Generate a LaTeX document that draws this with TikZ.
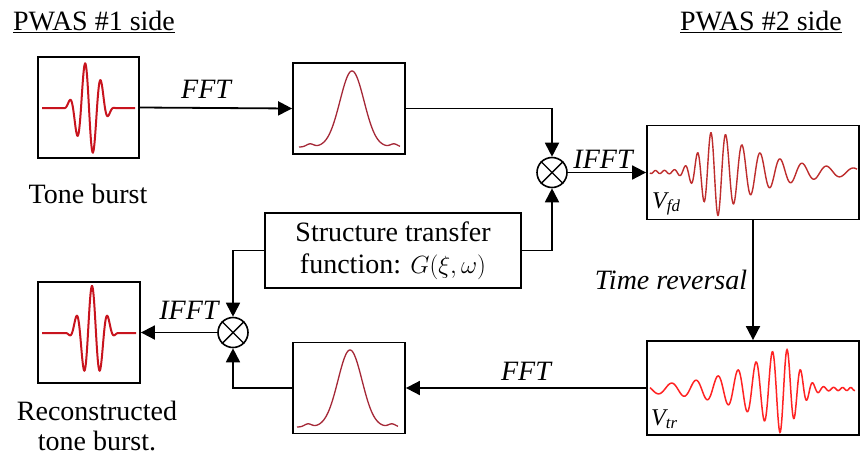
\documentclass[tikz,border=0pt]{standalone}
\usepackage{fontspec}
\setmainfont{Liberation Serif}
\usetikzlibrary{arrows.meta, calc}

\definecolor{burstred}{RGB}{200,20,30}
\definecolor{specred}{RGB}{165,40,55}
\definecolor{fdred}{RGB}{190,45,45}
\definecolor{trred}{RGB}{255,35,35}

\begin{document}
\begin{tikzpicture}[x=1pt, y=-1pt,
    box/.style={draw, line width=1.8pt, fill=white, inner sep=0pt},
    mult/.style={draw, circle, line width=1.6pt, fill=white, minimum size=30pt, inner sep=0pt},
    arr/.style={line width=1.8pt, -{Triangle[length=14pt, width=14pt]}},
    txt/.style={font=\fontsize{28}{30}\selectfont, inner sep=0pt},
    lbl/.style={font=\fontsize{28}{30}\selectfont\itshape, inner sep=0pt, anchor=base},
    sig/.style={font=\fontsize{24}{24}\selectfont\itshape, inner sep=0pt, anchor=base west}]
    \useasboundingbox (0,0) rectangle (862,456);

    \node[txt, anchor=base] (side1) at (94,30) {\underline{PWAS \#1 side}};
    \node[txt, anchor=base] (side2) at (761,30) {\underline{PWAS \#2 side}};

    % top row
    \node[box, minimum width=101pt, minimum height=101pt] (tb) at (88.5,107.5) {};
    \node[box, minimum width=112pt, minimum height=91pt] (g1) at (349,108.5) {};
    \node[mult] (m1) at (552,172.5) {};
    \node[box, minimum width=212pt, minimum height=94pt] (vfd) at (753,172.5) {};
    \node[txt, anchor=base] (tbtext) at (88,203) {Tone burst};

    % middle and bottom row
    \node[box, minimum width=256pt, minimum height=75pt, align=center, font=\fontsize{28}{32}\selectfont] (stf) at (393,250.5)
        {Structure transfer\\function: $G(\xi,\omega)$};
    \node[box, minimum width=102pt, minimum height=101pt] (rc) at (89,332.5) {};
    \node[mult] (m2) at (233,332.5) {};
    \node[box, minimum width=112pt, minimum height=91pt] (g2) at (349,388) {};
    \node[box, minimum width=212pt, minimum height=94pt] (vtr) at (753,388) {};
    \node[txt, anchor=north, align=center] (rctext) at (97,401) {Reconstructed\\tone burst.};

    % tone bursts
    \draw[line width=2pt, burstred] (42,108) -- plot[domain=62.5:115.5, samples=200]
        (\x, {108 - 47*cos(90*(\x-89)/26.5)*cos(90*(\x-89)/26.5)*sin(-360*(\x-89)/16)}) -- (135,108);
    \draw[line width=2pt, burstred] (42,333) -- plot[domain=65.5:118.5, samples=200]
        (\x, {333 - 47*cos(90*(\x-92)/26.5)*cos(90*(\x-92)/26.5)*cos(360*(\x-92)/16)}) -- (136,333);

    % spectra
    \draw[line width=1.3pt, specred] plot[domain=299:400, samples=160]
        (\x, {147 - 76*exp(-(\x-352)*(\x-352)/289) - 3*exp(-(abs(\x-352)-42)*(abs(\x-352)-42)/25)});
    \draw[line width=1.3pt, specred] plot[domain=297:398, samples=160]
        (\x, {427 - 77*exp(-(\x-350)*(\x-350)/289) - 3*exp(-(abs(\x-350)-42)*(abs(\x-350)-42)/25)});

    % received and time reversed signals
    \draw[line width=1.4pt, fdred] plot[domain=650:718, samples=150]
        (\x, {172 - (42*exp(-(\x-718)*(\x-718)/484)+1.5)*sin(3600*ln(1+(\x-650)/80)+215)})
        -- plot[domain=718:857, samples=250]
        (\x, {172 - (42*exp(-(\x-718)/48)+1.5)*sin(3600*ln(1+(\x-650)/80)+215)});
    \draw[line width=1.5pt, trred] plot[domain=643:718, samples=150]
        ({1498-\x}, {389 - (42*exp(-(\x-718)*(\x-718)/484)+1.5)*sin(3600*ln(1+(\x-650)/80)+215)})
        -- plot[domain=718:848, samples=250]
        ({1498-\x}, {389 - (42*exp(-(\x-718)/48)+1.5)*sin(3600*ln(1+(\x-650)/80)+215)});

    \node[sig] (fd) at (652,208) {V\textsubscript{fd}};
    \node[sig] (tr) at (651,425) {V\textsubscript{tr}};

    \foreach \m in {m1, m2}
        \draw[line width=1.4pt] (\m.north west) -- (\m.south east) (\m.north east) -- (\m.south west);

    % connectors
    \draw[arr] (tb.east) -- (g1.west) node[lbl, pos=0.435, yshift=9pt] {FFT};
    \draw[arr] (g1.east) -| (m1.north);
    \draw[arr] (stf.east) -| (m1.south);
    \draw[arr] (m1.east) -- (vfd.west) node[lbl, pos=0.45, yshift=4.5pt] {IFFT};
    \draw[arr] (vfd.south) -- (vtr.north) node[lbl, midway, anchor=base east, xshift=-5pt, yshift=-9pt] {Time reversal};
    \draw[arr] (vtr.west) -- (g2.east) node[lbl, midway, yshift=8pt] {FFT};
    \draw[arr] (g2.west) -| (m2.south);
    \draw[arr] (stf.west) -| (m2.north);
    \draw[arr] (m2.west) -- (rc.east) node[lbl, pos=0.37, yshift=13pt] {IFFT};

\end{tikzpicture}
\end{document}
